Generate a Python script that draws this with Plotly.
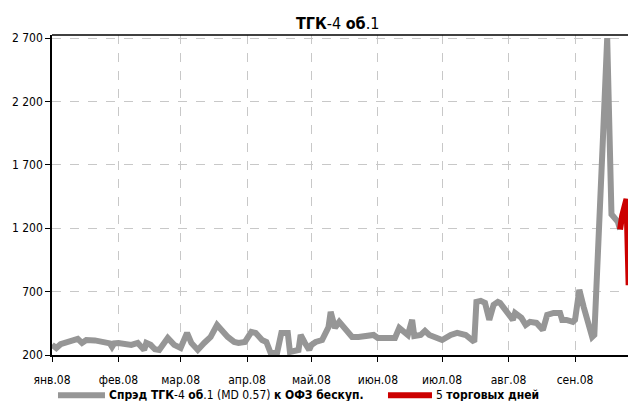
import plotly.graph_objects as go

gray_dates = ["2008-01-01","2008-01-03","2008-01-05","2008-01-08","2008-01-13","2008-01-15","2008-01-17",
"2008-01-21","2008-01-24","2008-01-28","2008-01-29","2008-01-30","2008-02-01","2008-02-04","2008-02-07",
"2008-02-10","2008-02-13","2008-02-14","2008-02-16","2008-02-18","2008-02-20","2008-02-24","2008-02-27",
"2008-03-01","2008-03-04","2008-03-06","2008-03-09","2008-03-12","2008-03-15","2008-03-18","2008-03-20",
"2008-03-23","2008-03-26","2008-03-28","2008-03-31","2008-04-03","2008-04-05","2008-04-08","2008-04-10",
"2008-04-12","2008-04-15","2008-04-17","2008-04-20","2008-04-21","2008-04-25","2008-04-26","2008-04-28",
"2008-04-30","2008-05-01","2008-05-03","2008-05-06","2008-05-07","2008-05-09","2008-05-10","2008-05-12",
"2008-05-14","2008-05-17","2008-05-20","2008-05-23","2008-05-26","2008-05-30","2008-06-01","2008-06-05",
"2008-06-09","2008-06-11","2008-06-14","2008-06-15","2008-06-17","2008-06-18","2008-06-21","2008-06-23",
"2008-06-25","2008-06-28","2008-07-01","2008-07-05","2008-07-08","2008-07-12","2008-07-14","2008-07-16",
"2008-07-17","2008-07-19","2008-07-21","2008-07-23","2008-07-25","2008-07-27","2008-07-28","2008-07-30",
"2008-08-01","2008-08-03","2008-08-04","2008-08-07","2008-08-09","2008-08-11","2008-08-14","2008-08-17",
"2008-08-19","2008-08-22","2008-08-25","2008-08-26","2008-08-28","2008-08-31","2008-09-01","2008-09-03",
"2008-09-05","2008-09-07","2008-09-09","2008-09-10","2008-09-12","2008-09-14","2008-09-16","2008-09-18",
"2008-09-21","2008-09-22"]
gray_vals = [280,255,285,303,327,295,318,
315,305,292,265,292,295,290,280,
295,240,295,280,245,240,334,280,
255,374,295,240,295,342,437,398,
342,303,295,303,382,374,318,303,
216,216,374,374,224,240,358,295,
240,279,303,318,358,421,540,414,
461,398,342,342,345,358,334,334,
334,414,382,358,477,350,358,390,
358,334,318,358,374,358,334,303,
619,627,611,477,595,619,611,572,
516,477,532,493,437,461,453,398,
516,532,532,477,477,461,477,714,
580,461,342,358,1244,1900,2700,1310,
1250,1190]

red_dates = ["2008-09-22","2008-09-23","2008-09-25","2008-09-26","2008-09-27","2008-09-28"]
red_vals = [1190,1300,1430,750,1250,610]

month_ticks = ["2008-01-01","2008-02-01","2008-03-01","2008-04-01","2008-05-01",
               "2008-06-01","2008-07-01","2008-08-01","2008-09-01"]
month_labels = ["янв.08","фев.08","мар.08","апр.08","май.08","июн.08","июл.08","авг.08","сен.08"]
y_ticks = [200, 700, 1200, 1700, 2200, 2700]
y_labels = ["200", "700", "1 200", "1 700", "2 200", "2 700"]

gray_name = "<b>Спрэд ТГК</b>-4 <b>об</b>.1 (MD 0.57) <b>к ОФЗ бескуп.</b>"
red_name = "5 <b>торговых дней</b>"
GRAY = "#969696"
RED = "#cc0000"

FONT = "DejaVu Sans Condensed, DejaVu Sans, sans-serif"

fig = go.Figure()
fig.add_trace(go.Scatter(x=gray_dates, y=gray_vals, mode="lines", name=gray_name,
                         line=dict(color=GRAY, width=6), showlegend=False))
fig.add_trace(go.Scatter(x=red_dates, y=red_vals, mode="lines", name=red_name,
                         line=dict(color=RED, width=6), showlegend=False))

fig.update_layout(
    width=620, height=393,
    margin=dict(l=44, r=0, t=27, b=46),
    paper_bgcolor="white", plot_bgcolor="white",
    font=dict(family=FONT, size=12, color="black"),
    showlegend=False,
)

# title
fig.add_annotation(text="<b>ТГК</b>-4 <b>об</b>.1", xref="paper", yref="paper",
                   x=0.495, y=1.0, yshift=0, xanchor="center", yanchor="bottom",
                   showarrow=False, font=dict(size=16, family=FONT))

# legend (swatches + labels below the plot)
LEG_Y = -0.126
for x0, x1, tx, col, name in [(0.0104, 0.0920, 0.0972, GRAY, gray_name),
                               (0.5833, 0.6597, 0.6649, RED, red_name)]:
    fig.add_shape(type="line", xref="paper", yref="paper", x0=x0, x1=x1, y0=LEG_Y, y1=LEG_Y,
                  line=dict(color=col, width=6))
    fig.add_annotation(text=name, xref="paper", yref="paper", x=tx, y=LEG_Y,
                       xanchor="left", yanchor="middle", showarrow=False, borderpad=0,
                       font=dict(size=12, family=FONT))

fig.update_xaxes(
    type="date", range=["2008-01-01", "2008-09-25 17:00"],
    tickmode="array", tickvals=month_ticks, ticktext=month_labels,
    showgrid=True, gridcolor="#c8c8c8", griddash="dash", gridwidth=1,
    showline=True, linecolor="black", linewidth=1.5, mirror=False,
    ticks="outside", ticklen=5, tickcolor="black", ticklabelstandoff=8,
    tickfont=dict(size=12, family=FONT), zeroline=False)
fig.update_yaxes(
    range=[200, 2724],
    tickmode="array", tickvals=y_ticks, ticktext=y_labels,
    showgrid=True, gridcolor="#c8c8c8", griddash="dash", gridwidth=1,
    showline=True, linecolor="black", linewidth=1.5,
    ticks="outside", ticklen=5, tickcolor="black",
    tickfont=dict(size=12, family=FONT), zeroline=False)
fig.add_shape(type="line", xref="paper", yref="paper", x0=0, x1=1, y0=1, y1=1,
              line=dict(color="black", width=1.5))

fig.write_html("out.html")
